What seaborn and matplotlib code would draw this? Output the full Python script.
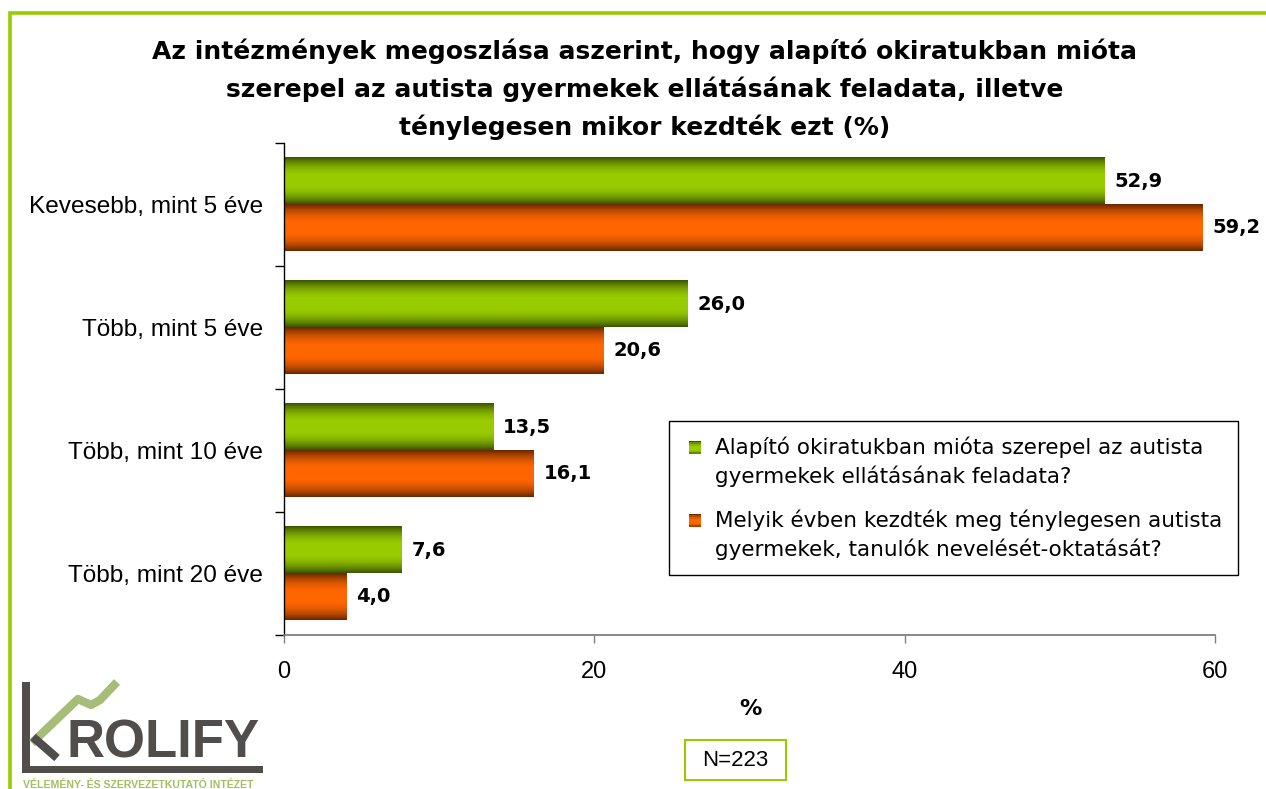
import numpy as np
import pandas as pd
import matplotlib
matplotlib.use("Agg")
import matplotlib.pyplot as plt
import seaborn as sns
from matplotlib.patches import Rectangle
from matplotlib.legend_handler import HandlerBase
from matplotlib.colors import to_rgb

# ---------------- data ----------------
categories = ["Kevesebb, mint 5 éve", "Több, mint 5 éve", "Több, mint 10 éve", "Több, mint 20 éve"]
series_names = [
    "Alapító okiratukban mióta szerepel az autista\ngyermekek ellátásának feladata?",
    "Melyik évben kezdték meg ténylegesen autista\ngyermekek, tanulók nevelését-oktatását?",
]
founding_values = [52.9, 26.0, 13.5, 7.6]
actual_values = [59.2, 20.6, 16.1, 4.0]
x_ticks = [0, 20, 40, 60]
title_text = ("Az intézmények megoszlása aszerint, hogy alapító okiratukban mióta\n"
              "szerepel az autista gyermekek ellátásának feladata, illetve\n"
              "ténylegesen mikor kezdték ezt (%)")
xlabel_text = "%"
n_text = "N=223"
logo_word = "ROLIFY"
logo_sub = "VÉLEMÉNY- ÉS SZERVEZETKUTATÓ INTÉZET"

# ---------------- style ----------------
GREEN_C, GREEN_E = "#99CC00", "#3B5500"
ORANGE_C, ORANGE_E = "#FF6600", "#6A2800"
BORDER = "#99CC00"

sns.set_theme(style="white")
plt.rcParams["font.family"] = ["Liberation Sans", "DejaVu Sans"]
plt.rcParams["text.color"] = "black"
plt.rcParams["axes.labelcolor"] = "black"
plt.rcParams["xtick.color"] = "black"
plt.rcParams["ytick.color"] = "black"

W, H = 1266, 789
fig = plt.figure(figsize=(W / 100, H / 100), dpi=100)
fig.patch.set_facecolor("white")

# overlay axes in pixel coordinates (border, logo, annotations)
ov = fig.add_axes([0, 0, 1, 1], zorder=0)
ov.set_xlim(0, W)
ov.set_ylim(H, 0)
ov.axis("off")

ax = fig.add_axes([284 / W, 1 - 635 / H, (1215 - 284) / W, (635 - 143) / H], zorder=1)
ax.set_facecolor("none")

df = pd.DataFrame({
    "Category": categories * 2,
    "Series": [series_names[0]] * len(categories) + [series_names[1]] * len(categories),
    "Value": founding_values + actual_values,
})

sns.barplot(data=df, y="Category", x="Value", hue="Series", orient="h",
            palette=[GREEN_C, ORANGE_C], width=0.764, saturation=1,
            legend=False, ax=ax, order=categories, hue_order=series_names,
            err_kws={"linewidth": 0})


def grad_colors(center, edge, n=64):
    c = np.array(to_rgb(center))
    e = np.array(to_rgb(edge))
    t = np.linspace(0, 1, n)
    f = 1 - np.abs(2 * t - 1) ** 2.2
    f = np.clip(f * 1.05, 0, 1)
    return e[None, :] * (1 - f[:, None]) + c[None, :] * f[:, None]


grads = [grad_colors(GREEN_C, GREEN_E), grad_colors(ORANGE_C, ORANGE_E)]

for ci, cont in enumerate(ax.containers):
    img = grads[ci][:, None, :]
    for rect in cont.patches:
        x0, y0 = rect.get_x(), rect.get_y()
        w, h = rect.get_width(), rect.get_height()
        rect.set_facecolor("none")
        rect.set_edgecolor("none")
        ax.imshow(img, extent=(x0, x0 + w, y0 + h, y0), aspect="auto",
                  interpolation="bilinear", zorder=2)
        val = w
        ax.annotate(f"{val:.1f}".replace(".", ","), xy=(x0 + w, y0 + h / 2),
                    xytext=(7, 0), textcoords="offset points", ha="left",
                    va="center", fontsize=14, fontweight="bold",
                    family="DejaVu Sans", color="black", zorder=3)

ax.set_xlim(0, 60)
ax.set_ylim(len(categories) - 0.5, -0.5)
ax.set_xticks(x_ticks)
ax.set_xticklabels([str(t) for t in x_ticks], fontsize=17)
ax.set_yticks(range(len(categories)))
ax.set_yticklabels(categories, fontsize=17.6)
ax.set_yticks(np.arange(-0.5, len(categories)), minor=True)
ax.set_xlabel("")
ax.set_ylabel("")
ax.tick_params(axis="x", which="major", direction="out", length=6, width=1,
               color="#808080", pad=13, bottom=True, labelcolor="black")
ax.tick_params(axis="y", which="major", length=0, pad=15, labelcolor="black", left=True)
ax.tick_params(axis="y", which="minor", direction="out", length=6.5, width=1,
               color="black", left=True)
for s in ["top", "right"]:
    ax.spines[s].set_visible(False)
ax.spines["left"].set_color("black")
ax.spines["left"].set_linewidth(1)
ax.spines["bottom"].set_color("#808080")
ax.spines["bottom"].set_linewidth(1.3)
ax.grid(False)


# legend with gradient handles aligned to the first text line
class GradHandler(HandlerBase):
    def __init__(self, cols, shift, xshift):
        super().__init__()
        self.cols = cols
        self.shift = shift
        self.xshift = xshift

    def create_artists(self, legend, orig_handle, xdescent, ydescent, width,
                       height, fontsize, trans):
        arts = []
        n = len(self.cols)
        base = -ydescent + self.shift * fontsize
        x0 = -xdescent + self.xshift * fontsize
        for i, c in enumerate(self.cols):
            r = Rectangle((x0, base + height * (n - 1 - i) / n),
                          width, height / n + 0.05, facecolor=c, edgecolor="none",
                          transform=trans)
            arts.append(r)
        return arts


LEG_FS = 15.5
h1 = Rectangle((0, 0), 1, 1)
h2 = Rectangle((0, 0), 1, 1)
leg = fig.legend([h1, h2], series_names, loc="upper left",
                 bbox_to_anchor=(669 / W, 1 - 421 / H), frameon=True,
                 fancybox=False, edgecolor="black", framealpha=1,
                 prop={"family": "DejaVu Sans", "size": LEG_FS},
                 handlelength=0.58, handleheight=0.58, handletextpad=0.85,
                 labelspacing=1.05, borderpad=0.72, borderaxespad=0,
                 handler_map={h1: GradHandler(grads[0][::8], 0.68, 0.2),
                              h2: GradHandler(grads[1][::8], 0.68, 0.2)})
for t in leg.get_texts():
    t.set_linespacing(1.42)
leg.get_frame().set_linewidth(1)
leg.set_zorder(5)

# title
fig.text(645 / W, 1 - 38 / H, title_text, ha="center", va="top", fontsize=18,
         fontweight="bold", family="DejaVu Sans", linespacing=1.62, color="black")

# axis label "%"
ov.text(750, 709, xlabel_text, ha="center", va="center", fontsize=16,
        fontweight="bold", family="DejaVu Sans")

# N box
ov.add_patch(Rectangle((685, 740), 101, 40, facecolor="white", edgecolor=BORDER, lw=1.5))
ov.text(735.5, 760.5, n_text, ha="center", va="center", fontsize=16)

# green frame
ov.plot([9.5, 9.5, W + 5], [H + 5, 13, 13], color=BORDER, lw=2.6,
        solid_joinstyle="miter", solid_capstyle="butt", clip_on=False)

# logo
GRAY = "#504D4B"
LOGO_GREEN = "#A5BD78"
ov.add_patch(Rectangle((22, 682), 8, 91, facecolor=GRAY, edgecolor="none"))
ov.add_patch(Rectangle((22, 766), 241, 7, facecolor=GRAY, edgecolor="none"))
ov.plot([32, 78, 91, 100, 117], [743, 699, 705, 700, 682], color=LOGO_GREEN,
        lw=6, solid_capstyle="butt", solid_joinstyle="round")
ov.plot([33, 57], [737, 758], color=GRAY, lw=6, solid_capstyle="butt")
ov.text(66, 757, logo_word, ha="left", va="baseline", fontsize=38,
        fontweight="bold", color=GRAY, family="Liberation Sans")
ov.text(23, 788, logo_sub, ha="left", va="baseline", fontsize=7.6,
        fontweight="bold", color="#A2C060", family="Liberation Sans")

fig.savefig("out.png", dpi=100, facecolor="white")
